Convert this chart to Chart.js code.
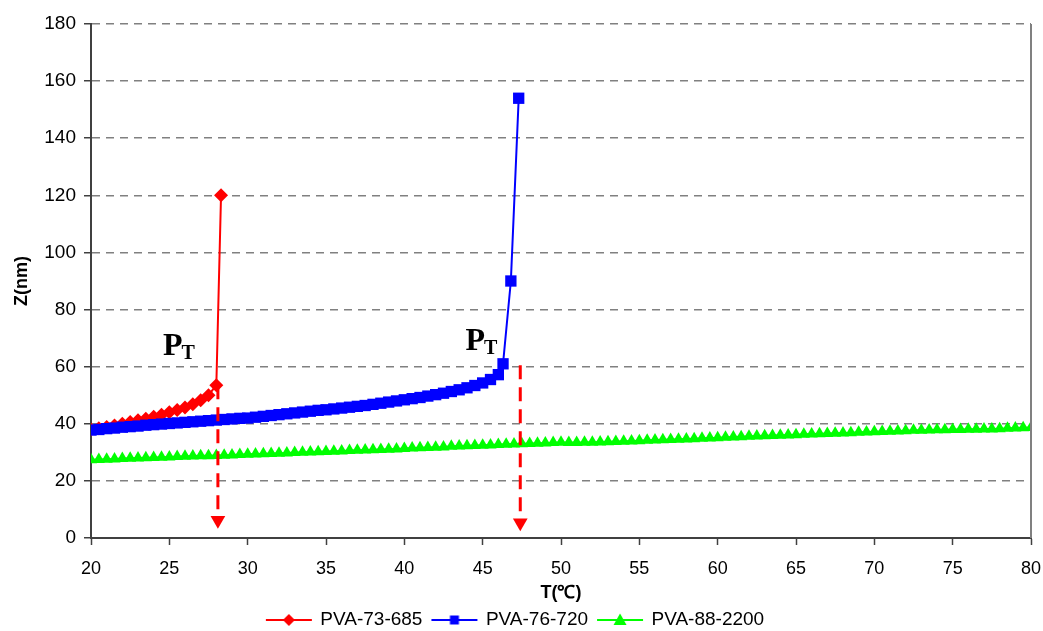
<!DOCTYPE html>
<html>
<head>
<meta charset="utf-8">
<script src="https://cdn.jsdelivr.net/npm/chart.js@4/dist/chart.umd.min.js"></script>
<style>
  html, body { margin: 0; background: #fff; overflow: hidden; }
  #wrap { width: 1043px; height: 631px; }
</style>
</head>
<body>
<div id="wrap"><canvas id="myChart"></canvas></div>
<script>
// PVA-73-685
const redT = [20, 20.5, 21, 21.5, 22, 22.5, 23, 23.5, 24, 24.5, 25, 25.5, 26, 26.5, 27, 27.5, 28, 28.3];
const redZ = [38.0, 38.4, 38.9, 39.4, 40.0, 40.6, 41.2, 41.8, 42.5, 43.2, 44.0, 44.8, 45.7, 46.8, 48.2, 50.0, 53.5, 120];

// PVA-76-720
const blueT = [20, 20.5, 21, 21.5, 22, 22.5, 23, 23.5, 24, 24.5,
  25, 25.5, 26, 26.5, 27, 27.5, 28, 28.5, 29, 29.5,
  30, 30.5, 31, 31.5, 32, 32.5, 33, 33.5, 34, 34.5,
  35, 35.5, 36, 36.5, 37, 37.5, 38, 38.5, 39, 39.5,
  40, 40.5, 41, 41.5, 42, 42.5, 43, 43.5, 44, 44.5,
  45, 45.5, 46, 46.3, 46.8, 47.3];
const blueZ = [37.8, 38.0, 38.3, 38.5, 38.8, 39.0, 39.2, 39.5, 39.7, 39.9,
  40.1, 40.3, 40.5, 40.7, 40.9, 41.1, 41.3, 41.5, 41.7, 41.9,
  42.0, 42.3, 42.6, 42.9, 43.2, 43.5, 43.8, 44.1, 44.4, 44.7,
  44.9, 45.2, 45.5, 45.8, 46.1, 46.4, 46.8, 47.2, 47.6, 48.0,
  48.4, 48.8, 49.2, 49.7, 50.2, 50.7, 51.3, 51.9, 52.6, 53.4,
  54.3, 55.5, 57.2, 61, 90, 154];

// PVA-88-2200
const greenT = [20, 20.5, 21, 21.5, 22, 22.5, 23, 23.5, 24, 24.5, 25,
  25.5, 26, 26.5, 27, 27.5, 28, 28.5, 29, 29.5, 30,
  30.5, 31, 31.5, 32, 32.5, 33, 33.5, 34, 34.5, 35,
  35.5, 36, 36.5, 37, 37.5, 38, 38.5, 39, 39.5, 40,
  40.5, 41, 41.5, 42, 42.5, 43, 43.5, 44, 44.5, 45,
  45.5, 46, 46.5, 47, 47.5, 48, 48.5, 49, 49.5, 50,
  50.5, 51, 51.5, 52, 52.5, 53, 53.5, 54, 54.5, 55,
  55.5, 56, 56.5, 57, 57.5, 58, 58.5, 59, 59.5, 60,
  60.5, 61, 61.5, 62, 62.5, 63, 63.5, 64, 64.5, 65,
  65.5, 66, 66.5, 67, 67.5, 68, 68.5, 69, 69.5, 70,
  70.5, 71, 71.5, 72, 72.5, 73, 73.5, 74, 74.5, 75,
  75.5, 76, 76.5, 77, 77.5, 78, 78.5, 79, 79.5, 80];
const greenZ = [27.4, 27.5, 27.6, 27.7, 27.8, 27.9, 28.0, 28.1, 28.2, 28.3, 28.4,
  28.5, 28.6, 28.7, 28.8, 28.8, 28.9, 29.0, 29.1, 29.2, 29.3,
  29.4, 29.5, 29.6, 29.7, 29.8, 29.9, 30.0, 30.1, 30.2, 30.3,
  30.4, 30.5, 30.6, 30.7, 30.8, 30.9, 31.0, 31.1, 31.2, 31.3,
  31.5, 31.6, 31.7, 31.8, 31.9, 32.1, 32.2, 32.3, 32.4, 32.5,
  32.6, 32.7, 32.8, 32.9, 33.0, 33.1, 33.2, 33.3, 33.4, 33.5,
  33.4, 33.4, 33.5, 33.5, 33.6, 33.7, 33.8, 33.9, 34.0, 34.1,
  34.2, 34.3, 34.4, 34.5, 34.6, 34.7, 34.8, 34.9, 35.0, 35.1,
  35.3, 35.4, 35.5, 35.6, 35.7, 35.8, 35.9, 36.0, 36.1, 36.2,
  36.3, 36.4, 36.5, 36.6, 36.7, 36.8, 36.9, 37.0, 37.1, 37.2,
  37.3, 37.4, 37.5, 37.6, 37.7, 37.7, 37.8, 37.9, 37.9, 38.0,
  38.0, 38.1, 38.1, 38.2, 38.2, 38.3, 38.4, 38.5, 38.6, 38.7];

const seriesNames = ["PVA-73-685", "PVA-76-720", "PVA-88-2200"];

// red dashed arrows down to the axis at the transition temperatures
const arrowT = [28.1, 47.4];
const arrowTop = [53.5, 60.5];
const arrowTip = [6.2, 5.3];

// "P_T" labels
const ptT = [24.6, 43.9];
const ptZ = [64, 66];

function pts(xs, ys) {
  return xs.map((x, i) => ({ x: x, y: ys[i] }));
}

// little line+marker pictures for the legend, Excel style
function legendIcon(color, shape) {
  const c = document.createElement("canvas");
  c.width = 48; c.height = 16;
  const g = c.getContext("2d");
  g.strokeStyle = color; g.fillStyle = color; g.lineWidth = 2;
  g.beginPath(); g.moveTo(1, 8); g.lineTo(47, 8); g.stroke();
  g.beginPath();
  if (shape === "diamond") {
    g.moveTo(24, 2); g.lineTo(30, 8); g.lineTo(24, 14); g.lineTo(18, 8);
  } else if (shape === "square") {
    g.rect(19.5, 3.5, 9, 9);
  } else {
    g.moveTo(24, 1.5); g.lineTo(30.5, 13); g.lineTo(17.5, 13);
  }
  g.closePath(); g.fill();
  return c;
}
const legendIcons = [
  legendIcon("#ff0000", "diamond"),
  legendIcon("#0000ff", "square"),
  legendIcon("#00ff00", "triangle")
];

const rightBorder = {
  id: "rightBorder",
  afterDraw(chart) {
    const a = chart.chartArea, ctx = chart.ctx;
    ctx.save();
    ctx.strokeStyle = "#808080";
    ctx.lineWidth = 2;
    ctx.beginPath();
    ctx.moveTo(a.right, a.top);
    ctx.lineTo(a.right, a.bottom);
    ctx.stroke();
    ctx.restore();
  }
};

const ptLabels = {
  id: "ptLabels",
  afterDatasetsDraw(chart) {
    const ctx = chart.ctx, xs = chart.scales.x, ys = chart.scales.y;
    ctx.save();
    ctx.fillStyle = "#000";
    ctx.textBaseline = "alphabetic";
    ctx.textAlign = "left";
    for (let i = 0; i < ptT.length; i++) {
      const px = xs.getPixelForValue(ptT[i]);
      const py = ys.getPixelForValue(ptZ[i]);
      ctx.font = "bold 32px 'Liberation Serif'";
      ctx.fillText("P", px, py);
      const w = ctx.measureText("P").width;
      ctx.font = "bold 20px 'Liberation Serif'";
      ctx.fillText("T", px + w - 1, py + 4);
    }
    ctx.restore();
  }
};

function arrowSet(i) {
  return {
    label: "arrow" + i,
    data: [{ x: arrowT[i], y: arrowTop[i] }, { x: arrowT[i], y: arrowTip[i] }],
    borderColor: "#ff0000",
    backgroundColor: "#ff0000",
    borderWidth: 3,
    borderDash: [14, 8],
    pointStyle: "triangle",
    rotation: 180,
    pointRadius: [0, 8.5],
    pointBorderWidth: 0,
    order: 0
  };
}

const myChart = new Chart("myChart", {
  type: "line",
  data: {
    datasets: [
      {
        label: seriesNames[0],
        data: pts(redT, redZ),
        borderColor: "#ff0000",
        backgroundColor: "#ff0000",
        borderWidth: 2,
        pointStyle: "rectRot",
        pointRadius: 7,
        pointBorderWidth: 0,
        order: 2
      },
      {
        label: seriesNames[1],
        data: pts(blueT, blueZ),
        borderColor: "#0000ff",
        backgroundColor: "#0000ff",
        borderWidth: 2,
        pointStyle: "rect",
        pointRadius: 8,
        pointBorderWidth: 0,
        order: 1
      },
      {
        label: seriesNames[2],
        data: pts(greenT, greenZ),
        borderColor: "#00ff00",
        backgroundColor: "#00ff00",
        borderWidth: 2,
        pointStyle: "triangle",
        pointRadius: 7,
        pointBorderWidth: 0,
        order: 3
      },
      arrowSet(0),
      arrowSet(1)
    ]
  },
  options: {
    responsive: true,
    maintainAspectRatio: false,
    animation: false,
    // the legend keeps a strip of empty space under it; let part of that fall off the canvas
    layout: { padding: { left: 0, right: 12, top: 24, bottom: -8.5 } },
    plugins: {
      tooltip: { enabled: false },
      legend: {
        position: "bottom",
        labels: {
          color: "#000",
          font: { family: "'Liberation Sans'", size: 19, lineHeight: 1 },
          usePointStyle: true,
          pointStyleWidth: 44,
          padding: 10,
          filter: item => item.datasetIndex < 3,
          sort: (a, b) => a.datasetIndex - b.datasetIndex,
          generateLabels: chart =>
            Chart.defaults.plugins.legend.labels.generateLabels(chart).map(l => {
              if (l.datasetIndex < 3) l.pointStyle = legendIcons[l.datasetIndex];
              return l;
            })
        }
      }
    },
    scales: {
      x: {
        type: "linear",
        min: 20,
        max: 80,
        afterFit: s => { s.height = 62.5; s.paddingLeft = 0; s.paddingRight = 0; },
        ticks: {
          stepSize: 5,
          color: "#000",
          padding: 13,
          font: { family: "'Liberation Sans'", size: 18 }
        },
        grid: {
          drawOnChartArea: false,
          drawTicks: true,
          tickLength: 7,
          tickColor: "#404040",
          tickWidth: 1.5
        },
        border: { color: "#404040", width: 2 },
        title: {
          display: true,
          text: "T(℃)",
          color: "#000",
          padding: { top: 0, bottom: -3.3 },
          font: { family: "'Liberation Sans'", size: 18, weight: "bold" }
        }
      },
      y: {
        min: 0,
        max: 180,
        afterFit: s => { s.width = 91; s.paddingTop = 0; s.paddingBottom = 0; },
        ticks: {
          stepSize: 20,
          color: "#000",
          padding: 8,
          font: { family: "'Liberation Sans'", size: 19 }
        },
        grid: {
          color: "#808080",
          lineWidth: 1.5,
          tickLength: 7,
          tickColor: "#404040",
          tickWidth: 1.5
        },
        border: { color: "#404040", width: 2, dash: [8, 6] },
        title: {
          display: true,
          text: "Z(nm)",
          color: "#000",
          padding: { top: 11, bottom: 0 },
          font: { family: "'Liberation Sans'", size: 18, weight: "bold" }
        }
      }
    }
  },
  plugins: [rightBorder, ptLabels]
});
</script>
</body>
</html>
